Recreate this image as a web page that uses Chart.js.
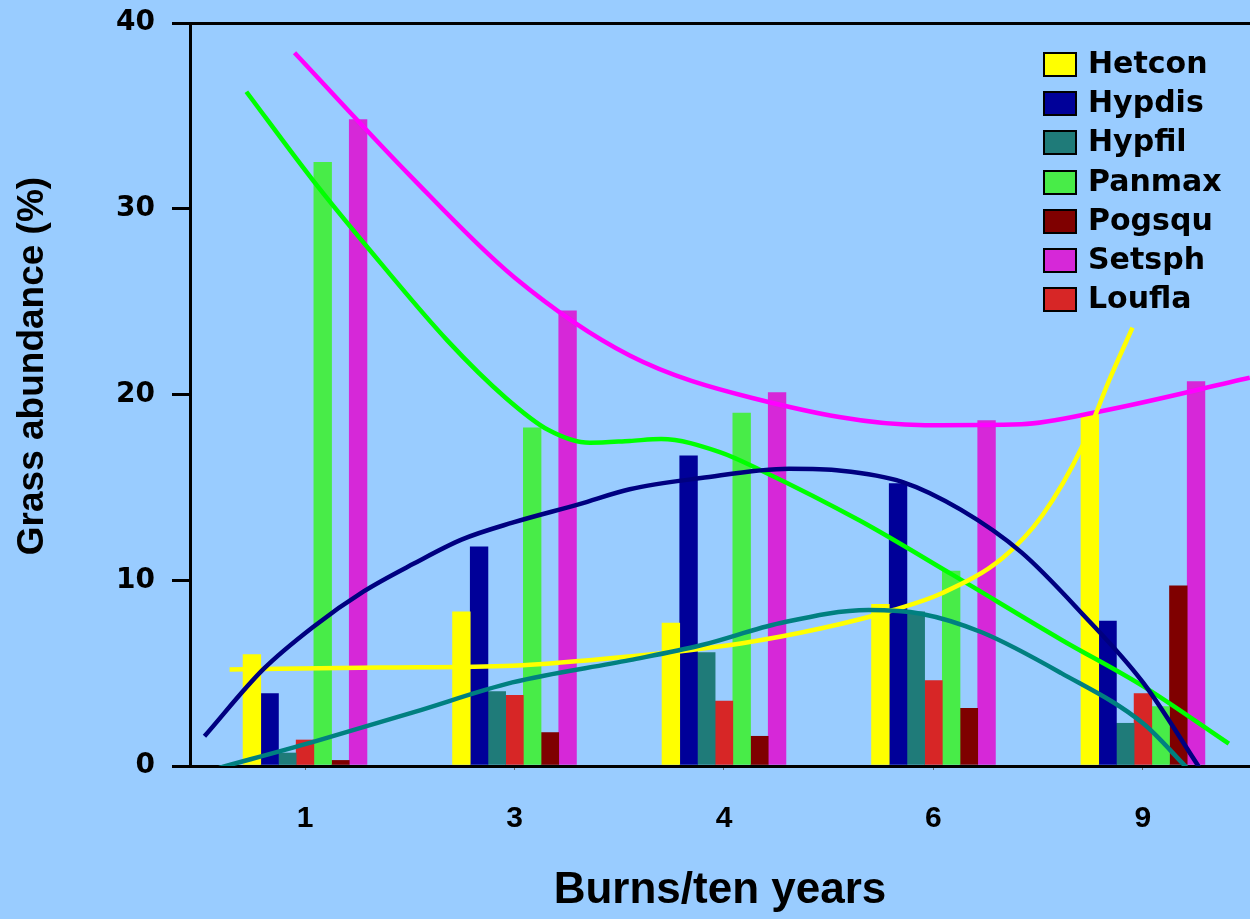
<!DOCTYPE html>
<html><head><meta charset="utf-8">
<script src="https://cdn.jsdelivr.net/npm/chart.js@4.4.1/dist/chart.umd.min.js"></script>
<style>html,body{margin:0;padding:0;background:#99CCFF;overflow:hidden}canvas{display:block}</style>
</head><body>
<canvas id="c" width="1250" height="919"></canvas>
<script>
// ---- data ----
const categories = ['1', '3', '4', '6', '9'];
const yTicks = [0, 10, 20, 30, 40];

const hetcon = [6.0, 8.3, 7.7, 8.7, 19.0];
const hypdis = [3.9, 11.8, 16.7, 15.2, 7.8];
const hypfil = [0.7, 4.0, 6.1, 8.3, 2.3];
const loufla = [1.4, 3.8, 3.5, 4.6, 3.9];
const panmax = [32.5, 18.2, 19.0, 10.5, 3.2];
const pogsqu = [0.3, 1.8, 1.6, 3.1, 9.7];
const setsph = [34.8, 24.5, 20.1, 18.6, 20.7];

const legendOrder = ['Hetcon', 'Hypdis', 'Hypfil', 'Panmax', 'Pogsqu', 'Setsph', 'Loufla'];

// trend curves (x in category-position units)
const setsphTrendX = [-0.05, 0.50, 1.00, 1.55, 2.14, 2.96, 3.42, 3.80, 4.51];
const setsphTrendY = [38.4, 31.8, 26.3, 22.1, 19.8, 18.35, 18.4, 19.1, 20.9];
const panmaxTrendX = [-0.28, 0.04, 0.30, 0.68, 0.96, 1.16, 1.36, 1.55, 1.70, 1.98, 2.18, 2.65, 3.09, 3.61, 4.00, 4.41];
const panmaxTrendY = [36.3, 31.5, 27.9, 22.9, 19.8, 18.1, 17.4, 17.5, 17.6, 16.9, 15.9, 13.2, 10.3, 6.8, 4.3, 1.2];
const hypdisTrendX = [-0.48, -0.20, 0.04, 0.28, 0.52, 0.75, 0.99, 1.31, 1.55, 1.89, 2.31, 2.56, 2.85, 3.13, 3.42, 3.71, 4.00, 4.27];
const hypdisTrendY = [1.6, 5.2, 7.5, 9.4, 10.9, 12.2, 13.1, 14.1, 14.9, 15.5, 16.0, 15.9, 15.3, 13.8, 11.5, 8.2, 4.5, -0.1];
const hypfilTrendX = [-0.41, 0.04, 0.52, 0.99, 1.55, 1.89, 2.27, 2.69, 2.94, 3.23, 3.61, 4.00, 4.21];
const hypfilTrendY = [-0.1, 1.3, 2.9, 4.5, 5.7, 6.5, 7.7, 8.4, 8.2, 7.2, 5.0, 2.3, -0.1];
const hetconTrendX = [-0.36, 0.36, 0.99, 1.55, 2.08, 2.46, 2.81, 3.04, 3.33, 3.52, 3.71, 3.84, 3.95];
const hetconTrendY = [5.2, 5.3, 5.4, 5.9, 6.6, 7.4, 8.4, 9.3, 11.2, 13.5, 17.2, 20.8, 23.6];

// ---- styling ----
const barColors = {
  Hetcon: '#FFFF00', Hypdis: '#000099', Hypfil: '#1F7B79', Loufla: '#D72626',
  Panmax: '#48EC48', Pogsqu: '#7F0000', Setsph: '#D628D8'
};
const pts = (xs, ys) => xs.map((x, i) => ({x: x, y: ys[i]}));
const barPts = (vals) => vals.map((v, i) => ({x: i, y: v}));

function bar(label, vals) {
  return { type: 'bar', label: label, data: barPts(vals), backgroundColor: barColors[label],
           borderWidth: 0, barThickness: 17.7, order: 1 };
}
function trend(label, xs, ys, color) {
  return { type: 'line', label: label, data: pts(xs, ys), borderColor: color, borderWidth: 4.5,
           pointRadius: 0, cubicInterpolationMode: 'monotone', fill: false, order: 0 };
}

const datasets = [
  trend('Hypdis trend', hypdisTrendX, hypdisTrendY, '#000080'),
  trend('Hypfil trend', hypfilTrendX, hypfilTrendY, '#008080'),
  trend('Hetcon trend', hetconTrendX, hetconTrendY, '#FFFF00'),
  trend('Panmax trend', panmaxTrendX, panmaxTrendY, '#00FF00'),
  trend('Setsph trend', setsphTrendX, setsphTrendY, '#FF00FF'),
  bar('Hetcon', hetcon),
  bar('Hypdis', hypdis),
  bar('Hypfil', hypfil),
  bar('Loufla', loufla),
  bar('Panmax', panmax),
  bar('Pogsqu', pogsqu),
  bar('Setsph', setsph)
];

const bgPlugin = {
  id: 'bg',
  beforeDraw(chart) {
    const ctx = chart.ctx; ctx.save(); ctx.fillStyle = '#99CCFF';
    ctx.fillRect(0, 0, chart.width, chart.height); ctx.restore();
  }
};
const yTitlePlugin = {
  id: 'yTitle',
  afterDraw(chart) {
    const ctx = chart.ctx; ctx.save();
    ctx.translate(33, 366); ctx.rotate(-Math.PI / 2);
    ctx.font = 'bold 37px "Liberation Sans", Arial, sans-serif';
    ctx.fillStyle = '#000'; ctx.textAlign = 'center'; ctx.textBaseline = 'middle';
    ctx.fillText('Grass abundance (%)', 0, 0);
    ctx.restore();
  }
};
const legendPlugin = {
  id: 'customLegend',
  afterDraw(chart) {
    const ctx = chart.ctx; ctx.save();
    ctx.font = 'bold 30px "DejaVu Sans", sans-serif';
    ctx.textBaseline = 'middle'; ctx.textAlign = 'left';
    legendOrder.forEach((name, i) => {
      const ds = chart.data.datasets.find(d => d.label === name && d.type === 'bar');
      const y = Math.round(53 + i * 39.2);
      ctx.fillStyle = ds.backgroundColor; ctx.fillRect(1044, y, 32, 23);
      ctx.lineWidth = 2; ctx.strokeStyle = '#000'; ctx.strokeRect(1044, y, 32, 23);
      ctx.fillStyle = '#000'; ctx.fillText(name, 1088, y + 12);
    });
    ctx.restore();
  }
};

new Chart(document.getElementById('c'), {
  type: 'bar',
  data: { datasets: datasets },
  plugins: [bgPlugin, yTitlePlugin, legendPlugin],
  options: {
    responsive: false, animation: false,
    layout: { padding: { left: 0, top: 23, right: 0, bottom: 0 } },
    plugins: { legend: { display: false }, tooltip: { enabled: false } },
    scales: {
      x: {
        type: 'linear', min: -0.549, max: 4.511, offset: false,
        afterBuildTicks: s => { s.ticks = categories.map((c, i) => ({ value: i })); },
        afterFit: s => { s.height = 153; s.paddingLeft = 0; s.paddingRight = 0; },
        ticks: {
          callback: (v) => categories[Math.round(v)],
          font: { family: '"Liberation Sans", Arial, sans-serif', weight: 'bold', size: 30 },
          color: '#000', padding: 31, maxRotation: 0, autoSkip: false
        },
        grid: { offset: false, drawOnChartArea: false, drawTicks: true, tickLength: 4, tickColor: '#666', lineWidth: 1 },
        border: { color: '#000', width: 3 },
        title: {
          display: true, text: 'Burns/ten years', color: '#000',
          font: { family: '"Liberation Sans", Arial, sans-serif', weight: 'bold', size: 44, lineHeight: 1.2 },
          padding: { top: 0, bottom: 2 }
        }
      },
      y: {
        min: 0, max: 40,
        afterBuildTicks: s => { s.ticks = yTicks.map(v => ({ value: v })); },
        afterFit: s => { s.width = 190; s.paddingTop = 0; s.paddingBottom = 0; },
        ticks: {
          font: { family: '"DejaVu Sans", sans-serif', weight: 'bold', size: 28 },
          color: '#000', padding: 17
        },
        grid: {
          color: c => (c.tick && c.tick.value === 40) ? '#000' : 'rgba(0,0,0,0)',
          tickColor: '#000', tickLength: 18, lineWidth: 3, drawTicks: true
        },
        border: { color: '#000', width: 3 }
      }
    }
  }
});
</script>
</body></html>
